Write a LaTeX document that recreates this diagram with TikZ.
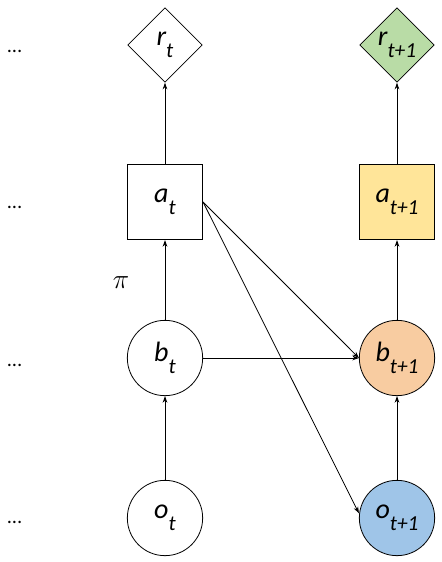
\documentclass[tikz,border=0pt]{standalone}
\usepackage{fontspec}
\setmainfont{Carlito}
\usetikzlibrary{positioning, arrows.meta, shapes.geometric}
\definecolor{rewardgreen}{RGB}{185,220,166}
\definecolor{actionyellow}{RGB}{255,229,153}
\definecolor{beliefpeach}{RGB}{248,204,161}
\definecolor{obsblue}{RGB}{159,197,232}
\newcommand{\subt}[1]{\raisebox{-0.42em}{\fontsize{16}{17}\selectfont #1}}
\tikzset{
    var/.style={draw=black, line width=0.6pt, inner sep=0pt, minimum size=56.5pt, font=\fontsize{21}{24}\selectfont\itshape},
    reward/.style={var, diamond, minimum size=56pt},
    action/.style={var, rectangle},
    belief/.style={var, circle},
    dots/.style={font=\fontsize{15}{16}\selectfont\itshape, inner sep=0pt},
    line/.style={-{Stealth[length=5pt, width=3.5pt]}, line width=0.6pt, black}
}

\begin{document}
\begin{tikzpicture}[x=0.75pt, y=-0.75pt]
        	\useasboundingbox (0,0) rectangle (442,562);
        	% step t
        	\node (r1) [reward] at (165,45) {r\subt{t}};
        	\node (a1) [action] at (165,202) {a\subt{t}};
        	\node (b1) [belief] at (165,358) {b\subt{t}};
        	\node (o1) [belief] at (165,518) {o\subt{t}};
        	% step t+1
        	\node (r2) [reward, fill=rewardgreen] at (397,45) {r\subt{t+1}};
        	\node (a2) [action, fill=actionyellow] at (397,202) {a\subt{t+1}};
        	\node (b2) [belief, fill=beliefpeach] at (397,358) {b\subt{t+1}};
        	\node (o2) [belief, fill=obsblue] at (397,518) {o\subt{t+1}};
        	
        	\node (pi) at (121,283) {\fontsize{22}{24}\selectfont$\pi$};
        	\node (d1) [dots] at (15,51) {...};
        	\node (d2) [dots] at (15,207) {...};
        	\node (d3) [dots] at (15,365) {...};
        	\node (d4) [dots] at (15,522) {...};
        	
        	\draw[line] (a1) -- (r1);
        	\draw[line] (b1) -- (a1);
        	\draw[line] (o1) -- (b1);
        	\draw[line] (a2) -- (r2);
        	\draw[line] (b2) -- (a2);
        	\draw[line] (o2) -- (b2);
        	\draw[line] (b1) -- (b2);
        	\draw[line] (a1.east) -- (b2.west);
        	\draw[line] (a1.east) -- ([yshift=3.5pt]o2.west);
        \end{tikzpicture}
\end{document}
